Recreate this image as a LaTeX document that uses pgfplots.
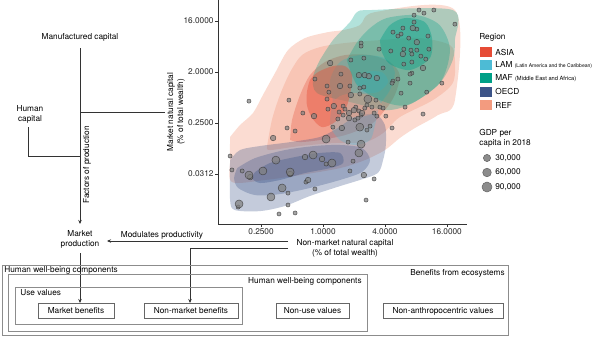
\documentclass[border=0pt]{standalone}
\usepackage{fontspec}
\setmainfont{TeX Gyre Heros}
\usepackage{pgfplots}
\pgfplotsset{compat=1.18}
\usetikzlibrary{arrows.meta}
\definecolor{asia}{HTML}{E64B35}
\definecolor{lam}{HTML}{4DBBD5}
\definecolor{maf}{HTML}{00A087}
\definecolor{oecd}{HTML}{3C5488}
\definecolor{ref}{HTML}{F39B7F}
\definecolor{ln}{HTML}{333333}
\newcommand{\fs}{\fontsize{6.2}{7.4}\selectfont}
\newcommand{\fss}{\fontsize{4.3}{5}\selectfont}
\newcommand{\fsss}{\fontsize{3.8}{4.5}\selectfont}
\begin{document}
\begin{tikzpicture}
\path[use as bounding box] (0pt,0pt) rectangle (450pt,-252.75pt);
\begin{scope}[x=0.75pt,y=-0.75pt,font=\fs,line width=0.5pt]
% flow diagram
\node at (80,37) {Manufactured capital};
\node[align=center,inner sep=0pt] at (30,114) {Human\\capital};
\draw[ln,-{Stealth[length=3pt,width=2.6pt]}] (80,48) -- (80,224);
\draw[ln] (80,112) -- (165,112);
\draw[ln] (28,127) -- (28,156) -- (80,156);
\node[rotate=90] at (87,165) {Factors of production};
\node[rotate=90,align=center,inner sep=0pt] at (176,112) {Market natural capital\\(\% of total wealth)};
\node[align=center,inner sep=0pt] at (80,239) {Market\\production};
\node at (162,235) {Modulates productivity};
\draw[ln,-{Stealth[length=3pt,width=2.6pt]}] (288,241) -- (107,241);
\draw[ln,-{Stealth[length=3pt,width=2.6pt]}] (288,248) -- (190,248) -- (190,303);
\draw[ln,-{Stealth[length=3pt,width=2.6pt]}] (80,253) -- (80,303);
\node[align=center,inner sep=0pt] at (345,248) {Non-market natural capital\\(\% of total wealth)};
% boxes
\draw[black!45] (2,265) rectangle (508,335);
\node[anchor=west,inner sep=0pt] at (4,270) {Human well-being components};
\node[anchor=east,inner sep=0pt] at (505,273) {Benefits from ecosystems};
\draw[black!45] (8,274) rectangle (367,331);
\node[anchor=east,inner sep=0pt] at (362,281) {Human well-being components};
\draw[black!45] (15,287) rectangle (242,324);
\node[anchor=west,inner sep=0pt] at (20,293) {Use values};
\draw[black!60] (38,303) rectangle (114,318);
\node at (76,311) {Market benefits};
\draw[black!60] (144,303) rectangle (238,318);
\node at (191,311) {Non-market benefits};
\draw[black!60] (276,303) rectangle (349,318);
\node at (312.5,311) {Non-use values};
\draw[black!60] (383,303) rectangle (503,318);
\node at (443,311) {Non-anthropocentric values};
% legend
\node[anchor=west,inner sep=0pt] at (479,37) {Region};
\fill[asia] (480,47) rectangle (492,57);
\fill[lam] (480,60) rectangle (492,70);
\fill[maf] (480,73) rectangle (492,83);
\fill[oecd] (480,86.5) rectangle (492,96.5);
\fill[ref] (480,100) rectangle (492,110);
\node[anchor=west,inner sep=0pt] at (495,52) {ASIA};
\node[anchor=west,inner sep=0pt] at (495,65) {LAM {\fsss(Latin America and the Caribbean)}};
\node[anchor=west,inner sep=0pt] at (495,78) {MAF {\fss(Middle East and Africa)}};
\node[anchor=west,inner sep=0pt] at (495,91.5) {OECD};
\node[anchor=west,inner sep=0pt] at (495,105) {REF};
\node[anchor=west,inner sep=0pt,align=left] at (479,138) {GDP per\\capita in 2018};
\filldraw[fill=black!45,draw=black!60,line width=0.4pt] (487,158) circle (3.6);
\filldraw[fill=black!45,draw=black!60,line width=0.4pt] (487,172.5) circle (4.3);
\filldraw[fill=black!45,draw=black!60,line width=0.4pt] (487,187) circle (5.0);
\node[anchor=west,inner sep=0pt] at (495,158) {30,000};
\node[anchor=west,inner sep=0pt] at (495,172.5) {60,000};
\node[anchor=west,inner sep=0pt] at (495,187) {90,000};
\end{scope}
\begin{axis}[
  at={(163.5pt,-168pt)}, anchor=south west, scale only axis,
  width=186.75pt, height=168pt,
  xmin=-3.39, xmax=4.65, ymin=-7.94, ymax=5.24,
  axis x line*=bottom, axis y line*=left,
  axis line style={ln,line width=0.5pt},
  xtick={-2,0,2,4}, xticklabels={0.2500,1.0000,4.0000,16.0000},
  ytick={-5,-2,1,4}, yticklabels={0.0312,0.2500,2.0000,16.0000},
  tick align=outside, major tick length=2.2pt,
  tick style={ln,line width=0.5pt},
  ticklabel style={font=\fs,text=black!85},
  /pgf/number format/assume math mode=true,
  xticklabel style={inner sep=1pt},
  yticklabel style={inner sep=1pt},
]
% REF outer
\addplot[draw=none,fill=ref,fill opacity=0.35,smooth,tension=0.5] coordinates {(-3.00,-2.82) (-2.68,-2.12) (-2.26,-1.41) (-1.94,-0.35) (-1.55,0.94) (-1.13,2.29) (-0.58,3.00) (0.16,3.35) (0.65,3.47) (1.19,3.76) (1.68,4.53) (4.26,4.65) (4.26,-0.65) (3.71,-1.53) (2.97,-2.29) (2.48,-2.88) (2.00,-3.59) (1.35,-4.18) (0.55,-4.65) (-0.74,-5.06) (-1.87,-5.35) (-2.94,-5.47) (-3.00,-4.18) (-3.00,-2.82)};
% REF mid
\addplot[draw=none,fill=ref,fill opacity=0.35,smooth,tension=0.5] coordinates {(-1.81,-3.41) (-1.65,-1.82) (-1.39,-0.35) (-1.06,1.00) (-0.68,2.00) (-0.10,2.47) (0.71,2.71) (1.84,2.88) (3.13,3.00) (4.10,2.59) (4.26,1.71) (4.19,0.35) (3.55,-0.65) (2.48,-1.65) (1.94,-2.59) (1.35,-3.12) (0.32,-3.18) (-0.74,-3.35) (-1.71,-3.59) (-1.81,-3.41)};
% ASIA outer
\addplot[draw=none,fill=asia,fill opacity=0.3,smooth,tension=0.5] coordinates {(-1.06,-3.00) (-1.00,-1.82) (-0.74,-0.35) (-0.42,0.82) (0.06,1.59) (0.71,2.00) (1.52,2.00) (2.16,1.59) (2.48,0.82) (2.32,-0.35) (2.00,-1.24) (1.52,-2.12) (0.71,-2.71) (-0.10,-3.00) (-0.74,-3.12) (-1.06,-3.00)};
% OECD outer
\addplot[draw=none,fill=oecd,fill opacity=0.3,smooth,tension=0.5] coordinates {(-3.00,-4.18) (-2.68,-3.59) (-2.03,-3.35) (-1.06,-3.12) (-0.10,-2.82) (0.48,-2.29) (1.03,-1.65) (1.68,-1.47) (2.00,-2.12) (2.03,-3.29) (1.94,-4.18) (1.77,-4.94) (1.19,-5.35) (0.55,-5.71) (-0.42,-6.29) (-1.23,-6.88) (-2.03,-7.18) (-2.84,-7.12) (-3.00,-6.53) (-3.00,-4.18)};
% LAM outer
\addplot[draw=none,fill=lam,fill opacity=0.3,smooth,tension=0.5] coordinates {(0.32,-0.65) (0.23,0.53) (0.55,1.59) (1.19,2.00) (2.00,1.82) (2.32,1.00) (2.16,-0.06) (1.84,-0.94) (1.68,-2.12) (1.52,-3.00) (1.03,-3.29) (0.55,-3.00) (0.23,-2.12) (0.32,-0.65)};
% MAF outer
\addplot[draw=none,fill=maf,fill opacity=0.3,smooth,tension=0.5] coordinates {(-0.10,1.71) (0.32,2.88) (0.87,3.94) (1.10,4.53) (1.52,4.65) (4.19,4.65) (4.26,2.88) (4.19,1.71) (3.77,0.35) (2.90,-0.82) (2.06,-1.24) (0.87,-0.76) (-0.19,-0.24) (-0.32,0.71) (-0.10,1.71)};
% REF core
\addplot[draw=none,fill=ref,fill opacity=0.35,smooth,tension=0.5] coordinates {(0.23,-0.94) (0.55,-0.41) (1.03,-0.24) (1.58,-0.41) (1.90,-0.94) (1.58,-1.47) (1.03,-1.65) (0.55,-1.47) (0.23,-0.94)};
% ASIA core
\addplot[draw=none,fill=asia,fill opacity=0.4,smooth,tension=0.5] coordinates {(-0.52,-0.18) (-0.42,0.53) (-0.16,1.00) (0.32,1.35) (0.71,1.35) (0.94,0.82) (0.87,-0.35) (0.71,-1.24) (0.39,-1.94) (-0.03,-2.24) (-0.35,-1.71) (-0.52,-0.94) (-0.52,-0.18)};
% OECD mid
\addplot[draw=none,fill=oecd,fill opacity=0.3,smooth,tension=0.5] coordinates {(-2.77,-4.65) (-2.19,-4.06) (-1.23,-3.59) (-0.26,-3.35) (0.55,-3.29) (1.26,-3.47) (1.52,-4.18) (1.26,-4.88) (0.55,-5.35) (-0.42,-5.82) (-1.39,-6.18) (-2.19,-6.24) (-2.74,-5.82) (-2.87,-5.24) (-2.77,-4.65)};
% LAM core
\addplot[draw=none,fill=lam,fill opacity=0.3,smooth,tension=0.5] coordinates {(1.03,0.53) (1.35,1.00) (1.90,1.00) (2.10,0.41) (1.77,-0.18) (1.26,-0.18) (1.03,0.53)};
% MAF mid
\addplot[draw=none,fill=maf,fill opacity=0.3,smooth,tension=0.5] coordinates {(0.77,1.71) (1.10,2.76) (1.52,3.59) (2.06,4.18) (3.03,4.35) (3.77,3.76) (4.10,2.29) (3.77,0.35) (2.71,-0.94) (1.84,-0.65) (1.10,0.24) (0.77,1.71)};
% OECD core
\addplot[draw=none,fill=oecd,fill opacity=0.35,smooth,tension=0.5] coordinates {(-2.19,-4.88) (-1.71,-4.35) (-0.90,-4.00) (-0.10,-3.76) (0.55,-3.76) (0.65,-4.35) (0.23,-4.65) (-0.58,-4.94) (-1.39,-5.35) (-2.03,-5.53) (-2.29,-5.24) (-2.19,-4.88)};
% MAF core
\addplot[draw=none,fill=maf,fill opacity=0.4,smooth,tension=0.5] coordinates {(1.84,2.88) (2.16,3.76) (2.65,4.18) (3.29,3.94) (3.52,3.00) (3.45,1.82) (2.81,1.12) (2.16,1.47) (1.90,2.18) (1.84,2.88)};
% points: small GDP
\addplot[only marks,mark=*,mark size=1.55pt,mark options={fill=black!50,fill opacity=0.7,draw=black!80,draw opacity=0.8,line width=0.35pt}] coordinates {
(2.94,4.35) (3.10,4.65) (3.26,4.47) (3.58,4.65) (4.26,3.82) (2.94,3.94) (2.58,3.59) (3.03,3.53) (2.26,3.35) (2.52,3.24) (2.42,3.12) (3.39,3.12) (2.77,3.00) (1.23,2.71) (1.23,2.53) (1.81,2.35) (2.19,2.24) (2.61,2.35) (2.84,2.29) (3.03,2.29) (3.42,2.35) (2.87,2.06) (3.16,1.94) (3.32,1.76) (1.32,1.82) (0.90,1.71) (2.87,1.59) (2.61,1.47) (1.94,1.24) (2.87,0.94) (2.81,0.88) (0.58,0.88) (2.26,0.47) (2.23,0.35) (2.42,0.59) (-0.26,0.59) (2.81,0.35) (3.84,0.35) (0.13,0.18) (0.87,0.18) (1.19,0.06) (1.32,0.12) (0.19,-0.18) (2.52,-0.24) (3.35,-0.18) (-2.39,-0.71) (-1.10,-0.65) (0.13,-0.59) (1.19,-0.29) (1.71,-0.65) (0.65,-1.00) (0.16,-1.18) (1.42,-0.94) (1.58,-1.06) (1.84,-1.06) (1.94,-1.12) (2.65,-1.06) (-0.65,-1.41) (0.52,-1.35) (0.71,-1.18) (1.16,-1.29) (1.35,-1.12) (1.65,-1.41) (1.74,-1.59) (2.03,-1.59) (3.23,-1.47) (0.48,-1.76) (1.03,-1.82) (1.23,-1.53) (1.13,-1.71) (1.52,-2.18) (0.32,-2.24) (2.23,-2.29) (-1.16,-2.29) (-0.90,-2.47) (0.81,-3.12) (0.97,-4.24) (-3.00,-3.94) (-2.94,-4.76) (-2.61,-4.82) (0.10,-4.41) (-0.55,-5.47) (-0.26,-5.88) (-1.13,-6.12) (-2.74,-6.94) (-1.42,-7.35) (-1.13,-6.82) (-0.90,-7.29) (0.87,-4.82) (1.65,-5.29) (1.39,-6.53) (1.06,-1.06) (0.65,-1.53) (1.42,-2.41)};
% points: medium GDP
\addplot[only marks,mark=*,mark size=2.1pt,mark options={fill=black!50,fill opacity=0.7,draw=black!80,draw opacity=0.8,line width=0.35pt}] coordinates {
(2.90,3.59) (3.03,2.76) (2.58,2.06) (3.23,1.24) (0.23,1.53) (1.16,0.82) (1.35,0.82) (1.48,0.76) (1.74,0.65) (0.55,0.18) (0.90,-0.35) (0.35,-1.00) (-0.29,-1.59) (0.84,-1.41) (1.00,-1.24) (1.26,-1.41) (0.84,-1.71) (0.61,-2.29) (-1.61,-2.88) (-2.35,-5.18) (-1.06,-5.00) (-0.58,-4.00) (-0.03,-4.12) (-0.48,-5.35) (1.32,-5.06)};
% points: large GDP
\addplot[only marks,mark=*,mark size=3.0pt,mark options={fill=black!50,fill opacity=0.7,draw=black!80,draw opacity=0.8,line width=0.35pt}] coordinates {
(1.45,-0.59) (1.19,-2.24) (0.10,-2.94) (1.23,-3.24) (1.16,-3.76) (-2.39,-5.06) (-1.94,-4.82) (-1.52,-4.18) (-1.06,-4.88) (-0.32,-3.88) (0.29,-4.35) (-1.32,-5.82) (-1.68,-6.35) (-2.71,-6.76)};
\end{axis}
\end{tikzpicture}
\end{document}
